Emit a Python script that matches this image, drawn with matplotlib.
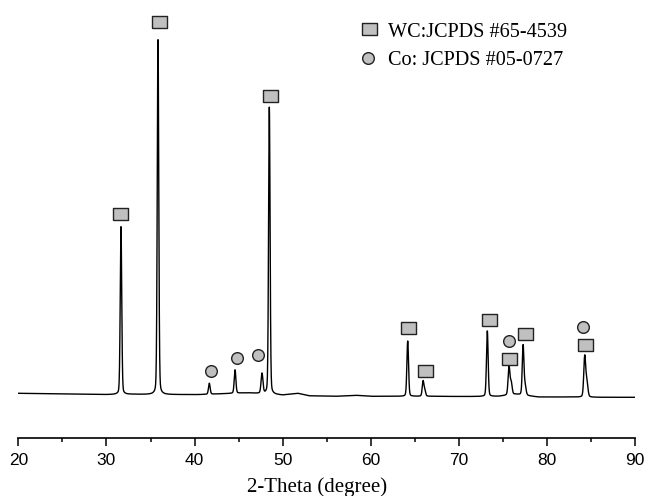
import numpy as np
import matplotlib
matplotlib.use("Agg")
import matplotlib.pyplot as plt
from matplotlib.ticker import MultipleLocator

# ---- data (2-theta in degrees, intensity in a.u.) ----
peak_pos = [31.65, 35.85, 41.67, 44.59, 47.65, 48.48, 64.18, 65.92, 66.12,
            73.21, 75.67, 75.92, 77.27, 77.50, 84.26, 84.50]
peak_amp = [1690, 3575, 110, 235, 200, 2870, 553, 150, 60,
            658, 286, 120, 496, 90, 400, 150]
peak_fwhm = [0.20, 0.20, 0.22, 0.22, 0.25, 0.20, 0.22, 0.22, 0.22,
             0.22, 0.24, 0.25, 0.22, 0.25, 0.25, 0.28]

base_x = [20, 22, 24, 26, 28, 30, 33, 34.5, 37, 39, 40.5, 43, 46, 50, 51.7,
          53, 56, 58.3, 60, 63, 67, 70, 72, 74.5, 76.4, 79, 82, 86, 90]
base_y = [450, 448, 445, 443, 440, 437, 440, 438, 437, 437, 437, 445, 455, 432, 450,
          425, 420, 430, 420, 420, 420, 418, 418, 420, 440, 413, 413, 410, 410]

wc_x = [31.54, 35.93, 48.56, 64.18, 66.13, 73.37, 75.70, 77.49, 84.26]
wc_y = [2243, 4166, 3426, 1100, 676, 1180, 790, 1040, 936]
co_x = [41.86, 44.77, 47.23, 75.70, 84.03]
co_y = [673, 806, 833, 970, 1116]

legend_labels = ["WC:JCPDS #65-4539", "Co: JCPDS #05-0727"]
xlabel = "2-Theta (degree)"

# ---- build pattern ----
x = np.arange(20, 90.0001, 0.02)
y = np.interp(x, base_x, base_y)
eta = 0.2
for p, a, w in zip(peak_pos, peak_amp, peak_fwhm):
    g = np.exp(-4 * np.log(2) * ((x - p) / w) ** 2)
    l = 1 / (1 + 4 * ((x - p) / w) ** 2)
    y = y + a * ((1 - eta) * g + eta * l)

fig = plt.figure(figsize=(6.46, 4.96), dpi=100)
ax = fig.add_axes([18.3 / 646, 1 - 438.3 / 496, 617 / 646, 438.3 / 496])
ax.set_xlim(20, 90)
ax.set_ylim(0, 4383)
ax.patch.set_alpha(0)

ax.plot(x, y, color="black", lw=1.0)

sq = [(-1.2, -1), (1.2, -1), (1.2, 1), (-1.2, 1), (-1.2, -1)]
gray = "#c0c0c0"
mk = dict(linestyle="none", markerfacecolor=gray, markeredgecolor="#222222",
          markeredgewidth=1.0, clip_on=False)
ax.plot(wc_x, wc_y, marker=sq, markersize=10.8, **mk)
ax.plot(co_x, co_y, marker="o", markersize=8.4, **mk)

# legend (manual placement)
ax.plot([(368.8 - 18.3) / 617], [1 - 29 / 438.3], transform=ax.transAxes,
        marker=sq, markersize=10.8, **mk)
ax.plot([(368.3 - 18.3) / 617], [1 - 58.3 / 438.3], transform=ax.transAxes,
        marker="o", markersize=8.4, **mk)
ax.text((387.7 - 18.3) / 617, 1 - 36.7 / 438.3, legend_labels[0], transform=ax.transAxes,
        ha="left", va="baseline", fontsize=14.6, family="Liberation Serif")
ax.text((387.7 - 18.3) / 617, 1 - 65.0 / 438.3, legend_labels[1], transform=ax.transAxes,
        ha="left", va="baseline", fontsize=14.6, family="Liberation Serif")

for s in ["left", "right", "top"]:
    ax.spines[s].set_visible(False)
ax.spines["bottom"].set_linewidth(1.2)
ax.set_yticks([])
ax.xaxis.set_major_locator(MultipleLocator(10))
ax.xaxis.set_minor_locator(MultipleLocator(5))
ax.tick_params(axis="x", which="major", direction="out", length=6, width=1.1, pad=4.5,
               labelsize=12.5)
ax.tick_params(axis="x", which="minor", direction="out", length=2.6, width=1.1)
for lab in ax.get_xticklabels():
    lab.set_family("Liberation Sans")
ax.set_xlabel(xlabel, fontsize=15, family="Liberation Serif")
ax.xaxis.label.set_va("baseline")
ax.xaxis.set_label_coords((317.5 - 18.3) / 617, -53.4 / 438.3)

fig.savefig("out.png", dpi=100)
